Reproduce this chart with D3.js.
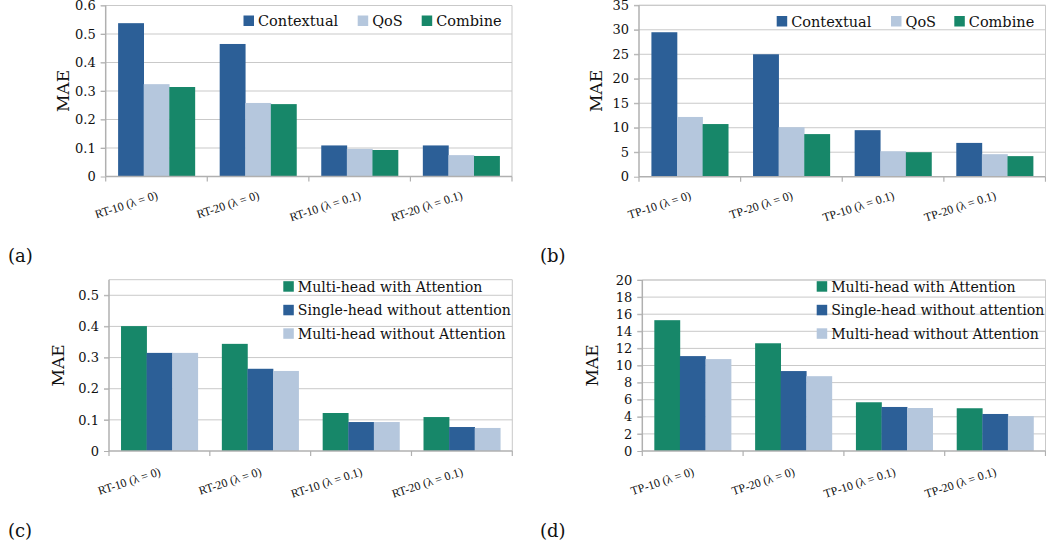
<!DOCTYPE html>
<html><head><meta charset="utf-8">
<script src="https://cdn.jsdelivr.net/npm/d3@7"></script>
<style>
body{margin:0;background:#fff;}
svg{display:block;}
</style></head>
<body><svg id="c" width="1046" height="549"></svg>
<script>
// ---------- data ----------
const catsRT = ["RT-10 (λ = 0)", "RT-20 (λ = 0)", "RT-10 (λ = 0.1)", "RT-20 (λ = 0.1)"];
const catsTP = ["TP-10 (λ = 0)", "TP-20 (λ = 0)", "TP-10 (λ = 0.1)", "TP-20 (λ = 0.1)"];

const seriesAB = ["Contextual", "QoS", "Combine"];
const seriesCD = ["Multi-head with Attention", "Single-head without attention", "Multi-head without Attention"];

// (a) RT
const aContextual = [0.538, 0.465, 0.109, 0.109];
const aQoS        = [0.324, 0.258, 0.097, 0.075];
const aCombine    = [0.314, 0.254, 0.093, 0.072];
// (b) TP
const bContextual = [29.5, 25.0, 9.5, 6.9];
const bQoS        = [12.2, 10.1, 5.2, 4.6];
const bCombine    = [10.75, 8.7, 5.0, 4.2];
// (c) RT
const cMultiAtt   = [0.401, 0.344, 0.122, 0.109];
const cSingle     = [0.315, 0.264, 0.093, 0.077];
const cMultiNo    = [0.315, 0.257, 0.093, 0.074];
// (d) TP
const dMultiAtt   = [15.3, 12.6, 5.7, 5.0];
const dSingle     = [11.1, 9.35, 5.15, 4.33];
const dMultiNo    = [10.75, 8.75, 5.03, 4.08];

const ticksA = [0, 0.1, 0.2, 0.3, 0.4, 0.5, 0.6];
const ticksB = [0, 5, 10, 15, 20, 25, 30, 35];
const ticksC = [0, 0.1, 0.2, 0.3, 0.4, 0.5];
const ticksD = [0, 2, 4, 6, 8, 10, 12, 14, 16, 18, 20];

// ---------- style ----------
const DARK = "#2c5f97", LIGHT = "#b5c7dd", GREEN = "#178769";
const GRID = "#c9c9c9", AXIS = "#b0b0b0";
const FONT = "'DejaVu Serif', serif";
const XFONT = "'Liberation Serif', serif";

const svg = d3.select("#c");

function panel(o) {
  const g = svg.append("g");
  const x0 = d3.scaleBand().domain(o.cats).range([o.left, o.right]).paddingInner(0).paddingOuter(0);
  const x1 = d3.scaleBand().domain(o.series).range([0, x0.bandwidth()]).paddingInner(0).paddingOuter(o.pad);
  const y = d3.scaleLinear().domain([0, o.max]).range([o.bottom, o.top]);

  // gridlines
  g.append("g").selectAll("line").data(o.ticks.filter(t => t > 0)).join("line")
    .attr("x1", o.left - 5).attr("x2", o.right)
    .attr("y1", d => y(d)).attr("y2", d => y(d))
    .attr("stroke", GRID).attr("stroke-width", 1);
  // top frame & right frame
  g.append("line").attr("x1", o.left).attr("x2", o.right).attr("y1", y(o.max)).attr("y2", y(o.max))
    .attr("stroke", GRID);
  g.append("line").attr("x1", o.right).attr("x2", o.right).attr("y1", y(o.max)).attr("y2", o.bottom)
    .attr("stroke", GRID);

  // bars
  const data = o.cats.flatMap((c, i) => o.series.map((s, j) => ({c, s, v: o.values[j][i], col: o.colors[j]})));
  g.append("g").selectAll("rect").data(data).join("rect")
    .attr("x", d => x0(d.c) + x1(d.s))
    .attr("width", x1.bandwidth() + 0.3)
    .attr("y", d => y(d.v))
    .attr("height", d => y(0) - y(d.v))
    .attr("fill", d => d.col);

  // y axis
  const ya = d3.axisLeft(y).tickValues(o.ticks).tickSize(5).tickPadding(5)
    .tickFormat(d3.format("~g"));
  const yg = g.append("g").attr("transform", `translate(${o.left},0)`).call(ya);
  yg.select(".domain").attr("stroke", AXIS).attr("stroke-width", 1.5)
    .attr("d", `M0,${y(o.max)}V${o.bottom}`);
  yg.selectAll(".tick line").attr("stroke", AXIS);
  yg.selectAll(".tick text").attr("font-family", FONT).attr("font-size", 13).attr("fill", "#111");

  // x axis
  const xa = d3.axisBottom(x0).tickSize(0).tickFormat("");
  const xg = g.append("g").attr("transform", `translate(0,${o.bottom})`).call(xa);
  xg.select(".domain").attr("stroke", AXIS).attr("stroke-width", 1.5).attr("d", `M${o.left},0H${o.right}`);
  const bounds = o.cats.map(c => x0(c)).concat([o.right]);
  xg.selectAll(".btick").data(bounds).join("line").attr("class", "btick")
    .attr("x1", d => d).attr("x2", d => d).attr("y1", 0).attr("y2", 5)
    .attr("stroke", AXIS).attr("stroke-width", 1.2);
  xg.selectAll(".xl").data(o.cats).join("text").attr("class", "xl")
    .attr("transform", d => `translate(${x0(d) + x0.bandwidth() / 2 + 2},${o.xlabDy}) rotate(-18)`)
    .attr("text-anchor", "end")
    .attr("font-family", XFONT).attr("font-size", 12).attr("fill", "#111")
    .text(d => d);

  // y title
  g.append("text").attr("transform", `translate(${o.titleX},${(o.top + o.bottom) / 2}) rotate(-90)`)
    .attr("text-anchor", "middle").attr("dy", "0.35em")
    .attr("font-family", FONT).attr("font-size", 17).attr("fill", "#111").text("MAE");

  // legend
  const lg = g.append("g");
  o.series.forEach((s, j) => {
    const p = o.legend[j];
    lg.append("rect").attr("x", p[0]).attr("y", p[1] - 5.5).attr("width", 10.5).attr("height", 10.5)
      .attr("fill", o.colors[j]);
    lg.append("text").attr("x", p[0] + 14.5).attr("y", p[1]).attr("dy", "0.36em")
      .attr("font-family", FONT).attr("font-size", o.legSize).attr("fill", "#111").text(s);
  });

  // panel label
  g.append("text").attr("x", o.labX).attr("y", o.labY).attr("dy", "0.35em")
    .attr("font-family", FONT).attr("font-size", 18).attr("fill", "#111").text(o.label);
}

panel({cats: catsRT, series: seriesAB, values: [aContextual, aQoS, aCombine], colors: [DARK, LIGHT, GREEN],
  left: 105.7, right: 512, top: 5.5, bottom: 176.5, max: 0.6, ticks: ticksA, pad: 0.485, legSize: 14.5,
  xlabDy: 22, titleX: 63, legend: [[243.5, 21], [357.7, 21], [421.7, 21]], label: "(a)", labX: 8, labY: 256});

panel({cats: catsTP, series: seriesAB, values: [bContextual, bQoS, bCombine], colors: [DARK, LIGHT, GREEN],
  left: 639, right: 1045.5, top: 5.3, bottom: 176.7, max: 35, ticks: ticksB, pad: 0.485, legSize: 14.5,
  xlabDy: 22, titleX: 596.5, legend: [[776.7, 21.5], [891, 21.5], [954.3, 21.5]], label: "(b)", labX: 540, labY: 256});

panel({cats: catsRT, series: seriesCD, values: [cMultiAtt, cSingle, cMultiNo], colors: [GREEN, DARK, LIGHT],
  left: 109, right: 512.3, top: 279.7, bottom: 451, max: 0.55, ticks: ticksC, pad: 0.47, legSize: 14.1,
  xlabDy: 24, titleX: 58.5, legend: [[283.3, 286.7], [283.3, 310.3], [283.3, 333.8]], label: "(c)", labX: 8, labY: 531});

panel({cats: catsTP, series: seriesCD, values: [dMultiAtt, dSingle, dMultiNo], colors: [GREEN, DARK, LIGHT],
  left: 642.3, right: 1045.5, top: 280, bottom: 451, max: 20, ticks: ticksD, pad: 0.47, legSize: 14.1,
  xlabDy: 24, titleX: 591.7, legend: [[816.7, 286.7], [816.7, 310.3], [816.7, 333.8]], label: "(d)", labX: 540, labY: 531});
</script>
</body></html>
